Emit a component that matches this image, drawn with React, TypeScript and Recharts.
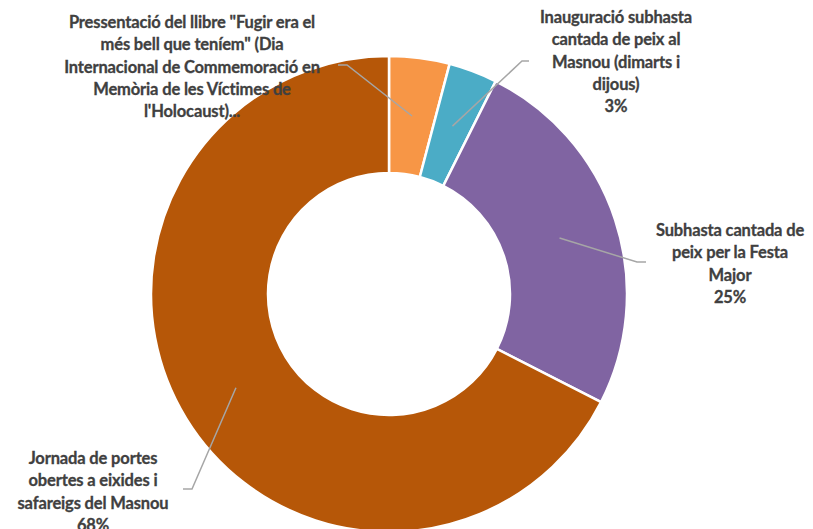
import React from 'react';
import { PieChart, Pie, Cell } from 'recharts';

// event names, split into the lines shown on the chart
const categories = [
  'Pressentació del llibre "Fugir era el més bell que teníem" (Dia Internacional de Commemoració en Memòria de les Víctimes de l\'Holocaust)',
  'Inauguració subhasta cantada de peix al Masnou (dimarts i dijous)',
  'Subhasta cantada de peix per la Festa Major',
  'Jornada de portes obertes a eixides i safareigs del Masnou',
];

const labelLines = [
  ['Pressentació del llibre "Fugir era el', 'més bell que teníem" (Dia', 'Internacional de Commemoració en', 'Memòria de les Víctimes de', "l'Holocaust)..."],
  ['Inauguració subhasta', 'cantada de peix al', 'Masnou (dimarts i', 'dijous)'],
  ['Subhasta cantada de', 'peix per la Festa', 'Major'],
  ['Jornada de portes', 'obertes a eixides i', 'safareigs del Masnou'],
];

const shares = [4.1, 3.3, 25.1, 67.5];
const percentLabels = ['', '3%', '25%', '68%'];

const colors = ['#F79646', '#4BACC6', '#8064A2', '#B65708'];

// label placement relative to pie centre (like Excel's manually dragged labels)
const labelLayout = [
  { tx: -197, ty: -272, ex: -42, ey: -229, tail: -9 },
  { tx: 227, ty: -277, ex: 133, ey: -233, tail: 7 },
  { tx: 341, ty: -64, ex: 248, ey: -32, tail: 9 },
  { tx: -296, ty: 164, ex: -197, ey: 195, tail: -9 },
];

const data = categories.map((name, i) => ({ name, value: shares[i] }));

const RAD = Math.PI / 180;

const renderLabel = (props: any) => {
  const { cx, cy, midAngle, innerRadius, outerRadius, index } = props;
  const layout = labelLayout[index];
  const r = (innerRadius + outerRadius) / 2;
  const sx = cx + r * Math.cos(-midAngle * RAD);
  const sy = cy + r * Math.sin(-midAngle * RAD);
  const ex = cx + layout.ex;
  const ey = cy + layout.ey;
  const lines = percentLabels[index] ? [...labelLines[index], percentLabels[index]] : labelLines[index];
  return (
    <g>
      <polyline
        points={`${sx},${sy} ${ex},${ey} ${ex + layout.tail},${ey}`}
        fill="none"
        stroke="#A6A6A6"
        strokeWidth={1.5}
      />
      <text
        x={cx + layout.tx}
        y={cy + layout.ty}
        textAnchor="middle"
        fill="#404040"
        fontFamily="Lato, sans-serif"
        fontWeight="bold"
        fontSize={16.5}
        letterSpacing={-0.15}
        stroke="#404040"
        strokeWidth={0.3}
      >
        {lines.map((line, i) => (
          <tspan key={i} x={cx + layout.tx} dy={i === 0 ? 6 : 22.3}>
            {line}
          </tspan>
        ))}
      </text>
    </g>
  );
};

export default function App() {
  return (
    <div style={{ position: 'absolute', left: 0, top: 0, width: 813, height: 529, background: '#fff' }}>
      <PieChart width={813} height={529} margin={{ top: 0, right: 0, bottom: 0, left: 0 }}>
        <Pie
          data={data}
          dataKey="value"
          nameKey="name"
          cx={389}
          cy={294}
          innerRadius={121}
          outerRadius={238}
          startAngle={90}
          endAngle={-270}
          stroke="#fff"
          strokeWidth={2.5}
          label={renderLabel}
          labelLine={false}
          isAnimationActive={false}
        >
          {data.map((d, i) => (
            <Cell key={d.name} fill={colors[i]} />
          ))}
        </Pie>
      </PieChart>
    </div>
  );
}
